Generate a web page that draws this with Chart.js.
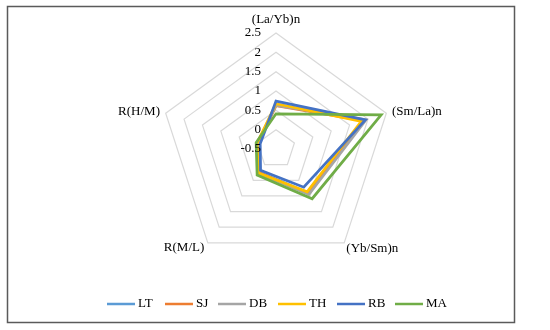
<!DOCTYPE html>
<html>
<head>
<meta charset="utf-8">
<script src="https://cdn.jsdelivr.net/npm/chart.js@4"></script>
<style>
  html, body { margin: 0; padding: 0; background: #fff; }
  #c { display: block; }
</style>
</head>
<body>
<canvas id="c" width="550" height="330"></canvas>
<script>
const categories = ['(La/Yb)n', '(Sm/La)n', '(Yb/Sm)n', 'R(M/L)', 'R(H/M)'];
const tickValues = [-0.5, 0, 0.5, 1, 1.5, 2, 2.5];
const seriesNames = ['LT', 'SJ', 'DB', 'TH', 'RB', 'MA'];
const seriesColors = ['#5B9BD5', '#ED7D31', '#A5A5A5', '#FFC000', '#4472C4', '#70AD47'];
const LT = [0.65, 1.90, 0.90, 0.24, 0.00];
const SJ = [0.62, 1.88, 0.93, 0.25, -0.02];
const DB = [0.63, 1.95, 0.95, 0.28, 0.00];
const TH = [0.67, 1.82, 0.87, 0.27, 0.01];
const RB = [0.74, 1.93, 0.72, 0.18, -0.07];
const MA = [0.41, 2.36, 1.09, 0.33, 0.04];
const seriesValues = [LT, SJ, DB, TH, RB, MA];

const FONT = '13px "Liberation Serif", "Times New Roman", serif';

const decor = {
  id: 'decor',
  beforeDraw(chart) {
    const ctx = chart.ctx;
    ctx.save();
    ctx.fillStyle = '#ffffff';
    ctx.fillRect(0, 0, chart.width, chart.height);
    ctx.strokeStyle = '#5a5a5a';
    ctx.lineWidth = 1.5;
    ctx.strokeRect(7.5, 6.5, 507, 316);
    ctx.restore();
  },
  afterDraw(chart) {
    const ctx = chart.ctx;
    const s = chart.scales.r;
    ctx.save();
    ctx.font = FONT;
    ctx.fillStyle = '#000';
    // tick labels
    ctx.textAlign = 'right';
    ctx.textBaseline = 'middle';
    tickValues.forEach(v => {
      const d = s.getDistanceFromCenterForValue(v);
      ctx.fillText(String(v), s.xCenter - 15, s.yCenter - d);
    });
    // point labels
    const R = s.drawingArea;
    categories.forEach((lab, i) => {
      if (i === 0) {
        const p = s.getPointPosition(i, R + 13);
        ctx.textAlign = 'center';
        ctx.fillText(lab, p.x, p.y);
      } else if (i === 1 || i === 2) {
        const p = s.getPointPosition(i, R + (i === 1 ? 6 : 7));
        ctx.textAlign = 'left';
        ctx.fillText(lab, p.x - (i === 2 ? 2 : 0), p.y);
      } else {
        const p = s.getPointPosition(i, R + 6);
        ctx.textAlign = 'right';
        ctx.fillText(lab, p.x, p.y);
      }
    });
    // legend
    const lx = [107, 165, 218, 278, 337, 395];
    const ly = 304;
    ctx.textAlign = 'left';
    seriesNames.forEach((n, i) => {
      ctx.strokeStyle = seriesColors[i];
      ctx.lineWidth = 2.5;
      ctx.beginPath();
      ctx.moveTo(lx[i], ly);
      ctx.lineTo(lx[i] + 28, ly);
      ctx.stroke();
      ctx.fillText(n, lx[i] + 31, ly);
    });
    ctx.restore();
  }
};

new Chart(document.getElementById('c'), {
  type: 'radar',
  data: {
    labels: categories,
    datasets: seriesNames.map((n, i) => ({
      label: n,
      data: seriesValues[i],
      borderColor: seriesColors[i],
      backgroundColor: 'rgba(0,0,0,0)',
      borderWidth: 2.75,
      pointRadius: 0,
      pointHoverRadius: 0,
      fill: false,
      tension: 0,
      order: seriesNames.length - i
    }))
  },
  options: {
    responsive: false,
    animation: false,
    devicePixelRatio: 1,
    layout: { padding: { left: 160, right: 158, top: 33, bottom: 65 } },
    plugins: { legend: { display: false }, tooltip: { enabled: false } },
    scales: {
      r: {
        min: -0.5,
        max: 2.5,
        ticks: { stepSize: 0.5, display: false },
        grid: { color: '#D9D9D9', lineWidth: 1.2, circular: false },
        angleLines: { display: false },
        pointLabels: { display: false }
      }
    }
  },
  plugins: [decor]
});
</script>
</body>
</html>
